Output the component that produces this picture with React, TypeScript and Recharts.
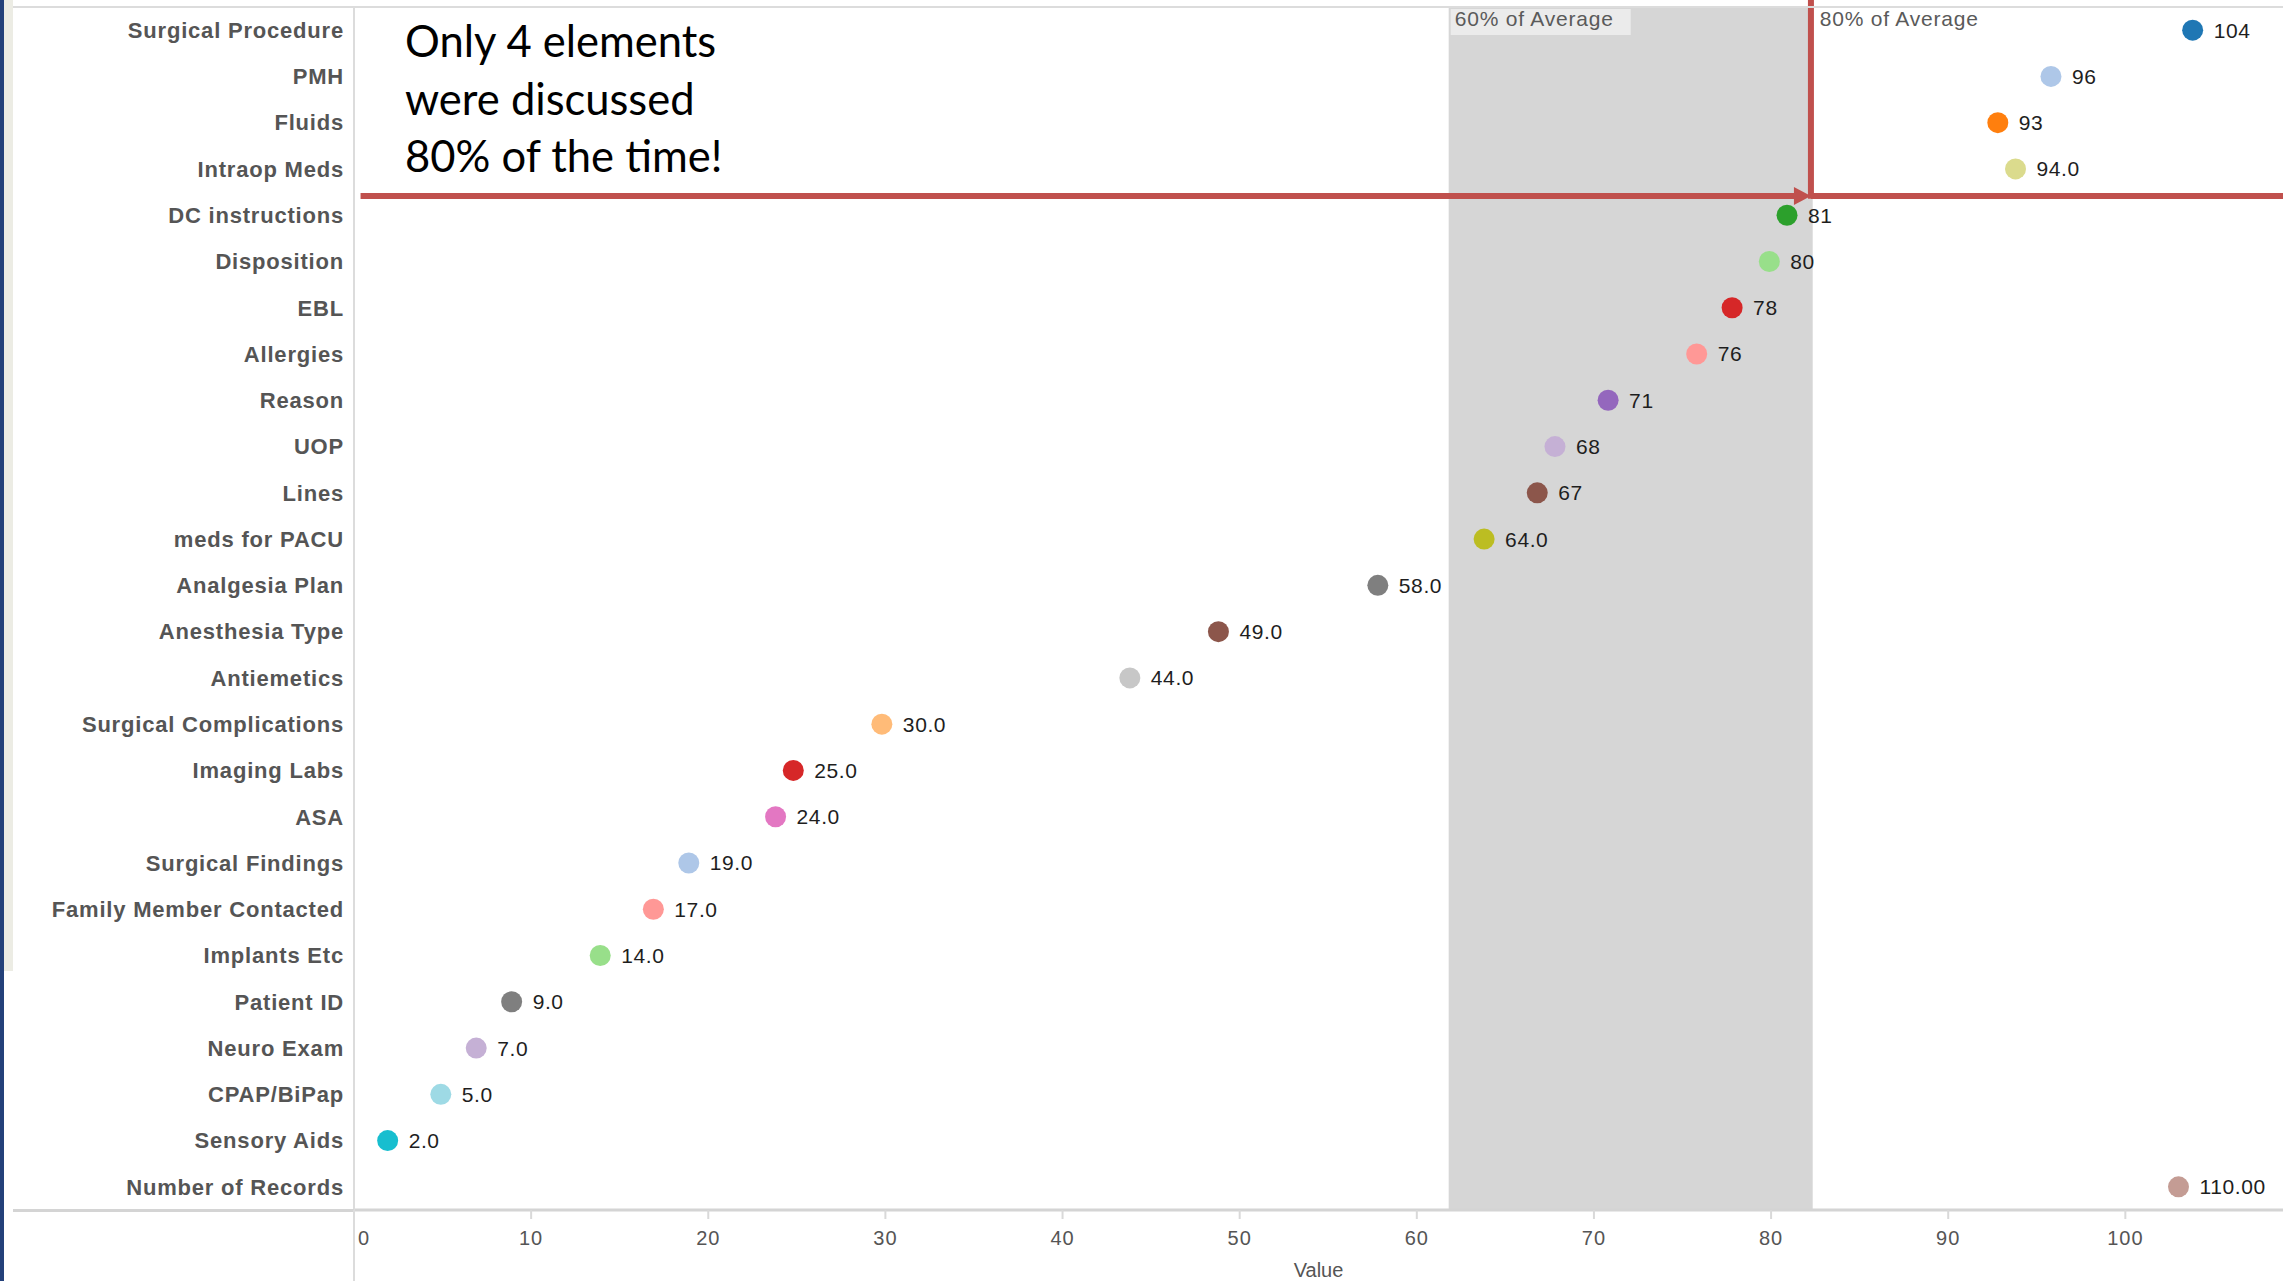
import React from "react";
import {
  ReferenceArea,
  ReferenceLine,
  Scatter,
  ScatterChart,
  XAxis,
  YAxis,
} from "recharts";

// Elements discussed during handoff, top to bottom as in the chart.
const CATEGORIES = [
  "Surgical Procedure",
  "PMH",
  "Fluids",
  "Intraop Meds",
  "DC instructions",
  "Disposition",
  "EBL",
  "Allergies",
  "Reason",
  "UOP",
  "Lines",
  "meds for PACU",
  "Analgesia Plan",
  "Anesthesia Type",
  "Antiemetics",
  "Surgical Complications",
  "Imaging Labs",
  "ASA",
  "Surgical Findings",
  "Family Member Contacted",
  "Implants Etc",
  "Patient ID",
  "Neuro Exam",
  "CPAP/BiPap",
  "Sensory Aids",
  "Number of Records",
];

// Plotted positions.
const VALUES = [
  103.8, 95.8, 92.8, 93.8, 80.9, 79.9, 77.8, 75.8, 70.8, 67.8, 66.8, 63.8, 57.8,
  48.8, 43.8, 29.8, 24.8, 23.8, 18.9, 16.9, 13.9, 8.9, 6.9, 4.9, 1.9, 103,
];

// Text printed next to each dot.
const VALUE_LABELS = [
  "104", "96", "93", "94.0", "81", "80", "78", "76", "71", "68", "67", "64.0",
  "58.0", "49.0", "44.0", "30.0", "25.0", "24.0", "19.0", "17.0", "14.0",
  "9.0", "7.0", "5.0", "2.0", "110.00",
];

const X_TICKS = [0, 10, 20, 30, 40, 50, 60, 70, 80, 90, 100];

// 60% / 80% of average band and the annotation arrow.
const BAND_LOW = 61.8;
const BAND_HIGH = 82.35;
const CUTOFF = 82.25;
const ARROW_ROW = 3.585;
const ARROW_START = 0.37;
const X_MAX = 108.9;

const ANNOTATION = ["Only 4 elements", "were discussed", "80% of the time!"];

// Tableau 20 colours, one per row.
const DOT_COLORS = [
  "#1f77b4", "#aec7e8", "#ff7f0e", "#dbdb8d", "#2ca02c", "#98df8a", "#d62728",
  "#ff9896", "#9467bd", "#c5b0d5", "#8c564b", "#bcbd22", "#7f7f7f", "#8c564b",
  "#c7c7c7", "#ffbb78", "#d62728", "#e377c2", "#aec7e8", "#ff9896", "#98df8a",
  "#7f7f7f", "#c5b0d5", "#9edae5", "#17becf", "#c49c94",
];

const RED = "#c0504d";
const FONT = "'Liberation Sans', Arial, sans-serif";

const rows = CATEGORIES.map((name, i) => ({
  row: i,
  name,
  value: VALUES[i],
  label: VALUE_LABELS[i],
}));

function DotWithLabel(props: any) {
  const { cx, cy, payload } = props;
  if (cx == null || cy == null) return null;
  return (
    <g>
      <circle cx={cx} cy={cy} r={10.5} fill={DOT_COLORS[payload.row]} />
      <text
        x={cx + 21}
        y={cy}
        dy="0.355em"
        fontFamily={FONT}
        fontSize={21}
        letterSpacing={0.6}
        fill="#1e1e1e"
      >
        {payload.label}
      </text>
    </g>
  );
}

function CategoryTick(props: any) {
  const { x, y, payload } = props;
  return (
    <text
      x={x}
      y={y}
      dy="0.355em"
      textAnchor="end"
      fontFamily={FONT}
      fontWeight="bold"
      fontSize={22}
      letterSpacing={0.8}
      fill="#555555"
    >
      {CATEGORIES[payload.value]}
    </text>
  );
}

function ValueTick(props: any) {
  const { x, y, payload } = props;
  const shift = payload.value === 0 ? 10 : 0;
  return (
    <text
      x={x + shift}
      y={y}
      dy="0.71em"
      textAnchor="middle"
      fontFamily={FONT}
      fontSize={20}
      letterSpacing={1}
      fill="#555555"
    >
      {payload.value}
    </text>
  );
}

function ArrowLine(props: any) {
  const { x1, y1, x2, y2 } = props;
  return (
    <g>
      <line x1={x1} y1={y1} x2={x2 - 14} y2={y2} stroke={RED} strokeWidth={6} />
      <polygon
        points={`${x2},${y2} ${x2 - 17},${y2 - 9} ${x2 - 17},${y2 + 9}`}
        fill={RED}
      />
    </g>
  );
}

function BandLabel(props: any) {
  const vb = props.viewBox;
  return (
    <g>
      <rect x={vb.x + 2} y={vb.y + 2} width={180} height={26} fill="#ebebeb" />
      <text
        x={vb.x + 6}
        y={vb.y + 19}
        fontFamily={FONT}
        fontSize={21}
        letterSpacing={0.8}
        fill="#5a5a5a"
      >
        60% of Average
      </text>
    </g>
  );
}

function UpperLabel(props: any) {
  const vb = props.viewBox;
  return (
    <text
      x={vb.x + 7}
      y={vb.y + 19}
      fontFamily={FONT}
      fontSize={21}
      letterSpacing={0.8}
      fill="#5a5a5a"
    >
      80% of Average
    </text>
  );
}

export default function App() {
  return (
    <div
      style={{
        position: "fixed",
        left: 0,
        top: 0,
        width: 2283,
        height: 1281,
        background: "#ffffff",
        overflow: "hidden",
      }}
    >
      {/* slide frame */}
      <div style={{ position: "absolute", left: 0, top: 0, width: 4, height: 1281, background: "#24417a" }} />
      <div style={{ position: "absolute", left: 4, top: 0, width: 9, height: 971, background: "#ececE4" }} />

      <ScatterChart
        width={2283}
        height={1281}
        margin={{ top: 7, right: 0, bottom: 0, left: 0 }}
      >
        <ReferenceArea
          x1={BAND_LOW}
          x2={BAND_HIGH}
          fill="#d6d6d6"
          fillOpacity={1}
          stroke="none"
          label={BandLabel}
        />
        <ReferenceArea
          x1={BAND_HIGH}
          x2={X_MAX}
          fill="#ffffff"
          fillOpacity={0}
          stroke="none"
          label={UpperLabel}
        />
        <XAxis
          type="number"
          dataKey="value"
          domain={[0, X_MAX]}
          ticks={X_TICKS}
          allowDataOverflow
          height={71}
          axisLine={{ stroke: "#d4d4d4", strokeWidth: 3 }}
          tickLine={{ stroke: "#d9d9d9", strokeWidth: 2 }}
          tickSize={9}
          tickMargin={12}
          tick={ValueTick}
          label={{
            value: "Value",
            position: "insideBottom",
            offset: 4,
            fill: "#555555",
            fontSize: 20,
            fontFamily: FONT,
          }}
        />
        <YAxis
          type="number"
          dataKey="row"
          domain={[-0.5, CATEGORIES.length - 0.5]}
          ticks={rows.map((r) => r.row)}
          interval={0}
          reversed
          width={354}
          axisLine={{ stroke: "#dcdcdc", strokeWidth: 2 }}
          tickLine={false}
          tickSize={0}
          tickMargin={10}
          tick={CategoryTick}
        />
        <ReferenceLine
          segment={[
            { x: ARROW_START, y: ARROW_ROW },
            { x: CUTOFF, y: ARROW_ROW },
          ]}
          stroke={RED}
          strokeWidth={6}
          ifOverflow="visible"
          shape={ArrowLine}
        />
        <ReferenceLine
          segment={[
            { x: CUTOFF, y: ARROW_ROW },
            { x: X_MAX, y: ARROW_ROW },
          ]}
          stroke={RED}
          strokeWidth={6}
          ifOverflow="visible"
        />
        <ReferenceLine
          segment={[
            { x: CUTOFF, y: -0.66 },
            { x: CUTOFF, y: ARROW_ROW + 0.06 },
          ]}
          stroke={RED}
          strokeWidth={6}
          ifOverflow="visible"
        />
        <Scatter
          data={rows}
          isAnimationActive={false}
          shape={DotWithLabel}
        />
      </ScatterChart>

      {/* frame lines outside the plot */}
      <div style={{ position: "absolute", left: 13, top: 6, width: 2270, height: 2, background: "#dcdcdc" }} />
      <div style={{ position: "absolute", left: 13, top: 1209, width: 341, height: 3, background: "#d4d4d4" }} />
      <div style={{ position: "absolute", left: 353, top: 1210, width: 2, height: 71, background: "#dcdcdc" }} />

      <svg
        width={900}
        height={200}
        style={{ position: "absolute", left: 0, top: 0, pointerEvents: "none" }}
      >
        {ANNOTATION.map((line, i) => (
          <text
            key={line}
            x={405}
            y={57 + i * 57.5}
            fontFamily="Lato, 'Open Sans', sans-serif"
            fontSize={43.5}
            fill="#000000"
          >
            {line}
          </text>
        ))}
      </svg>
    </div>
  );
}
